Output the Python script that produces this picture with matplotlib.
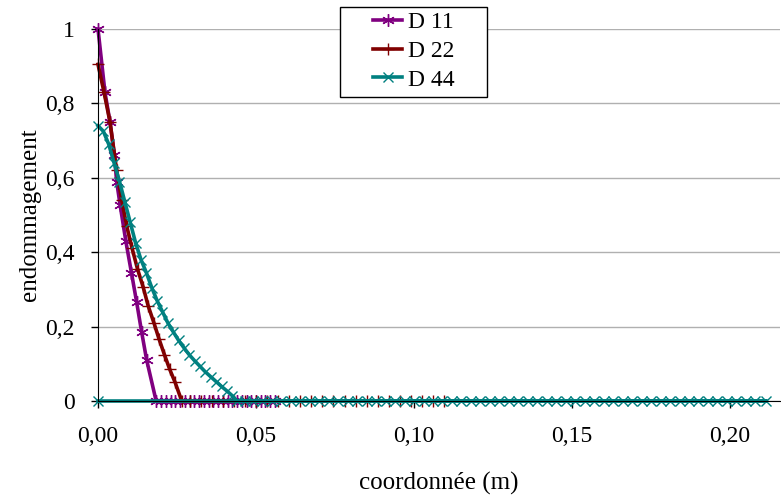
import matplotlib.pyplot as plt
from matplotlib.patches import Rectangle
from matplotlib.ticker import FuncFormatter

# D 11 : courbe puis zeros
x_d11 = [0.0, 0.0022, 0.0038, 0.0052, 0.0059, 0.0070, 0.0088, 0.0106, 0.0122, 0.0138, 0.0154, 0.0184,
         0.0200, 0.0215, 0.0230, 0.0245, 0.0260, 0.0275, 0.0290, 0.0305, 0.0320, 0.0335, 0.0350, 0.0365,
         0.0380, 0.0395, 0.0410, 0.0425, 0.0440, 0.0455, 0.0470, 0.0485, 0.0500, 0.0515, 0.0530, 0.0545, 0.0560]
y_d11 = [1.0, 0.83, 0.75, 0.66, 0.59, 0.527, 0.43, 0.344, 0.267, 0.186, 0.11, 0.0,
         0, 0, 0, 0, 0, 0, 0, 0, 0, 0, 0, 0,
         0, 0, 0, 0, 0, 0, 0, 0, 0, 0, 0, 0, 0]

# D 22
x_d22 = [0.0, 0.0019, 0.0038, 0.0059, 0.0075, 0.0091, 0.0108, 0.0125, 0.0143, 0.0159, 0.0177, 0.0193,
         0.0210, 0.0227, 0.0244, 0.0265,
         0.0290, 0.0325, 0.0360, 0.0395, 0.0430, 0.0465, 0.0500, 0.0535, 0.0570, 0.0605, 0.0640,
         0.0675, 0.0710, 0.0745, 0.0780, 0.0815, 0.0850, 0.0885, 0.0920, 0.0955, 0.0990, 0.1025,
         0.1060, 0.1095]
y_d22 = [0.905, 0.83, 0.75, 0.62, 0.54, 0.47, 0.41, 0.355, 0.306, 0.255, 0.21, 0.167,
         0.125, 0.085, 0.05, 0.0,
         0, 0, 0, 0, 0, 0, 0, 0, 0, 0, 0,
         0, 0, 0, 0, 0, 0, 0, 0, 0, 0, 0,
         0, 0]

# D 44
x_d44 = [0.0, 0.0017, 0.0034, 0.0051, 0.0068, 0.0085, 0.0102, 0.0119, 0.0136, 0.0153, 0.0170, 0.0187,
         0.0204, 0.0221, 0.0238, 0.0255, 0.0272, 0.0289, 0.0306, 0.0323, 0.0340, 0.0357, 0.0374,
         0.0391, 0.0408, 0.0425, 0.0440,
         0.0465, 0.049, 0.052, 0.055, 0.058, 0.061, 0.064, 0.067, 0.070, 0.073, 0.076, 0.079, 0.082,
         0.085, 0.088, 0.091, 0.094, 0.097, 0.100, 0.103, 0.106, 0.109, 0.112, 0.115, 0.118, 0.121,
         0.124, 0.127, 0.130, 0.133, 0.136, 0.139, 0.142, 0.145, 0.148, 0.151, 0.154, 0.157, 0.160,
         0.163, 0.166, 0.169, 0.172, 0.175, 0.178, 0.181, 0.184, 0.187, 0.190, 0.193, 0.196, 0.199,
         0.202, 0.205, 0.208, 0.2115, 0.0]
y_d44 = [0.740, 0.725, 0.690, 0.640, 0.590, 0.535, 0.480, 0.425, 0.380, 0.345, 0.305, 0.270,
         0.240, 0.210, 0.186, 0.163, 0.143, 0.124, 0.108, 0.093, 0.078, 0.065, 0.052,
         0.039, 0.027, 0.014, 0.0,
         0, 0, 0, 0, 0, 0, 0, 0, 0, 0, 0, 0, 0,
         0, 0, 0, 0, 0, 0, 0, 0, 0, 0, 0, 0, 0,
         0, 0, 0, 0, 0, 0, 0, 0, 0, 0, 0, 0, 0,
         0, 0, 0, 0, 0, 0, 0, 0, 0, 0, 0, 0, 0,
         0, 0, 0, 0, 0]

plt.rcParams['font.family'] = ['Liberation Serif', 'DejaVu Serif']

fig = plt.figure(figsize=(7.81, 4.98), dpi=100)
ax = fig.add_axes([98 / 781, 97 / 498, 682 / 781, 372 / 498])

ax.plot(x_d11, y_d11, color='#800080', lw=2.6, marker=(6, 2, 0), ms=9, mew=1.0, label='D 11', clip_on=False)
ax.plot(x_d22, y_d22, color='#800000', lw=2.6, marker='+', ms=9, mew=1.0, label='D 22', clip_on=False)
ax.plot(x_d44, y_d44, color='#008080', lw=2.6, marker='x', ms=6.5, mew=1.0, label='D 44', clip_on=False)

ax.set_xlim(0, 0.2158)
ax.set_ylim(0, 1)
ax.set_xticks([0, 0.05, 0.10, 0.15, 0.20])
ax.set_yticks([0, 0.2, 0.4, 0.6, 0.8, 1.0])
ax.xaxis.set_major_formatter(FuncFormatter(lambda v, p: f'{v:.2f}'.replace('.', ',')))
ax.yaxis.set_major_formatter(FuncFormatter(lambda v, p: ('%g' % round(v, 2)).replace('.', ',')))
ax.tick_params(direction='out', length=5, width=1, labelsize=17)
ax.tick_params(axis='x', pad=13)
ax.tick_params(axis='y', pad=12)
ax.grid(axis='y', color='#b0b0b0', lw=1)
ax.set_axisbelow(True)
for s in ['top', 'right']:
    ax.spines[s].set_visible(False)

ax.set_xlabel('coordonnée (m)', fontsize=18, labelpad=18)
ax.set_ylabel('endommagement', fontsize=18, labelpad=3)

# cadre de la legende
fig.patches.append(Rectangle((340 / 781, 1 - 97 / 498), 147 / 781, 90 / 498, transform=fig.transFigure,
                             facecolor='white', edgecolor='black', lw=1, zorder=5))
handles, labels = ax.get_legend_handles_labels()
leg = fig.legend(handles, labels, loc='upper left', bbox_to_anchor=(361 / 781, 1.0),
                 fontsize=17, frameon=False, handlelength=1.25, handletextpad=0.25,
                 borderpad=0.0, labelspacing=0.3)
leg.set_zorder(6)

fig.savefig('out.png', dpi=100)
